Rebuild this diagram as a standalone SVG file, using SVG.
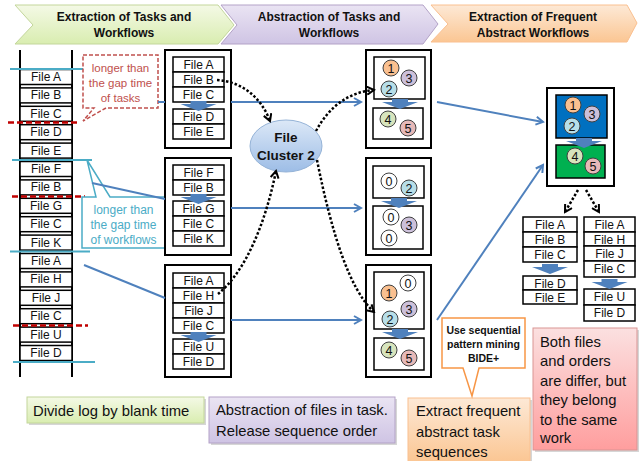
<svg xmlns="http://www.w3.org/2000/svg" width="639" height="461" viewBox="0 0 639 461">
<style>
text{font-family:"Liberation Sans",Arial,sans-serif;fill:#111}
.ft{font-size:12px;text-anchor:middle}
.fb{fill:#fff;stroke:#000;stroke-width:1.5}
.outer{fill:#fff;stroke:#000;stroke-width:2}
.inner{fill:#fff;stroke:#000;stroke-width:1.5}
.hd{font-size:12px;font-weight:bold;text-anchor:middle}
.c{stroke:#404040;stroke-width:1}
.ct{font-size:12.5px;text-anchor:middle}
.bl{fill:none;stroke:#4F81BD;stroke-width:2}
.dot{fill:none;stroke:#000;stroke-width:2.5;stroke-dasharray:2.5 2}
.teal{stroke:#4BACC6;stroke-width:2}
.red{stroke:#C00000;stroke-width:2.5;stroke-dasharray:6 3}
.lab{font-size:14.8px}
</style>
<defs>
<linearGradient id="gG" x1="0" y1="0" x2="0" y2="1"><stop offset="0" stop-color="#F4F9E6"/><stop offset="1" stop-color="#D9EDB0"/></linearGradient>
<linearGradient id="gP" x1="0" y1="0" x2="0" y2="1"><stop offset="0" stop-color="#EAE4F3"/><stop offset="1" stop-color="#CFC4E4"/></linearGradient>
<linearGradient id="gO" x1="0" y1="0" x2="0" y2="1"><stop offset="0" stop-color="#FDE9D6"/><stop offset="1" stop-color="#FBC693"/></linearGradient>
<linearGradient id="gR" x1="0" y1="0" x2="0" y2="1"><stop offset="0" stop-color="#FBE0E0"/><stop offset="1" stop-color="#FF9E9E"/></linearGradient>
<linearGradient id="gE" x1="0" y1="0" x2="0" y2="1"><stop offset="0" stop-color="#DCE8F7"/><stop offset="1" stop-color="#9DBDE6"/></linearGradient>
<marker id="ab" markerWidth="10" markerHeight="10" refX="8" refY="5" orient="auto" markerUnits="userSpaceOnUse"><path d="M1,1 L8,5 L1,9" fill="none" stroke="#4F81BD" stroke-width="2"/></marker>
<marker id="ak" markerWidth="10" markerHeight="10" refX="8" refY="5" orient="auto" markerUnits="userSpaceOnUse"><path d="M1,1 L8,5 L1,9" fill="none" stroke="#000" stroke-width="2"/></marker>
<path id="darr" d="M-8,0 H8 V3 H18 L0,10 L-18,3 H-8 Z" fill="#4F81BD"/>
</defs>

<g id="headers">
<path d="M15,5 H218 L234,25 L218,44 H15 L33,25 Z" fill="url(#gG)" stroke="#C3D69B" stroke-width="1"/>
<text class="hd" x="124" y="21">Extraction of Tasks and</text>
<text class="hd" x="124" y="37">Workflows</text>
<path d="M221,5 H423 L438,24 L423,44 H221 L237,25 Z" fill="url(#gP)" stroke="#B3A2C7" stroke-width="1"/>
<text class="hd" x="329" y="21">Abstraction of Tasks and</text>
<text class="hd" x="329" y="37">Workflows</text>
<path d="M431,5 H627 L637,23 L627,42 H431 L448,24 Z" fill="url(#gO)" stroke="#FAC090" stroke-width="1"/>
<text class="hd" x="533" y="21">Extraction of Frequent</text>
<text class="hd" x="533" y="37">Abstract Workflows</text>
</g>

<g id="log">
<line x1="20" y1="50" x2="20" y2="377" stroke="#000" stroke-width="2"/>
<line x1="72" y1="50" x2="72" y2="377" stroke="#000" stroke-width="2"/>
<g>
<rect class="fb" x="20" y="69.5" width="52" height="15"/><text class="ft" x="46" y="81">File A</text>
<rect class="fb" x="20" y="87.9" width="52" height="15"/><text class="ft" x="46" y="99.4">File B</text>
<rect class="fb" x="20" y="106.3" width="52" height="15"/><text class="ft" x="46" y="117.8">File C</text>
<rect class="fb" x="20" y="124.7" width="52" height="15"/><text class="ft" x="46" y="136.2">File D</text>
<rect class="fb" x="20" y="143.1" width="52" height="15"/><text class="ft" x="46" y="154.6">File E</text>
<rect class="fb" x="20" y="161.5" width="52" height="15"/><text class="ft" x="46" y="173">File F</text>
<rect class="fb" x="20" y="179.9" width="52" height="15"/><text class="ft" x="46" y="191.4">File B</text>
<rect class="fb" x="20" y="198.3" width="52" height="15"/><text class="ft" x="46" y="209.8">File G</text>
<rect class="fb" x="20" y="216.7" width="52" height="15"/><text class="ft" x="46" y="228.2">File C</text>
<rect class="fb" x="20" y="235.1" width="52" height="15"/><text class="ft" x="46" y="246.6">File K</text>
<rect class="fb" x="20" y="253.5" width="52" height="15"/><text class="ft" x="46" y="265">File A</text>
<rect class="fb" x="20" y="271.9" width="52" height="15"/><text class="ft" x="46" y="283.4">File H</text>
<rect class="fb" x="20" y="290.3" width="52" height="15"/><text class="ft" x="46" y="301.8">File J</text>
<rect class="fb" x="20" y="308.7" width="52" height="15"/><text class="ft" x="46" y="320.2">File C</text>
<rect class="fb" x="20" y="327.1" width="52" height="15"/><text class="ft" x="46" y="338.6">File U</text>
<rect class="fb" x="20" y="345.5" width="52" height="15"/><text class="ft" x="46" y="357">File D</text>
</g>
<line class="teal" x1="10" y1="69" x2="83" y2="69"/>
<line class="teal" x1="12" y1="160" x2="92" y2="160"/>
<line class="teal" x1="10" y1="251.5" x2="90" y2="251.5"/>
<line class="teal" x1="13" y1="362" x2="95" y2="362"/>
<line class="red" x1="8" y1="122.5" x2="80" y2="122.5"/>
<line class="red" x1="12" y1="196.5" x2="85" y2="196.5"/>
<line class="red" x1="13" y1="325.5" x2="88" y2="325.5"/>
</g>

<g id="callout-tasks">
<path d="M83,55 H158 V108 H106 L83,121 L94,108 H83 Z" fill="#fff" stroke="#C0504D" stroke-width="1.5" stroke-dasharray="4 2"/>
<text x="120.5" y="72" font-size="11.5" text-anchor="middle" style="fill:#C0504D">longer than</text>
<text x="120.5" y="87" font-size="11.5" text-anchor="middle" style="fill:#C0504D">the gap time</text>
<text x="120.5" y="102" font-size="11.5" text-anchor="middle" style="fill:#C0504D">of tasks</text>
</g>

<g id="callout-workflows">
<path d="M82,197 H96 L87,160 L110,197 H165 V248 H82 Z" fill="#fff" stroke="#4BACC6" stroke-width="1.5"/>
<text x="123.5" y="214" font-size="12" text-anchor="middle" style="fill:#4BACC6">longer than</text>
<text x="123.5" y="229" font-size="12" text-anchor="middle" style="fill:#4BACC6">the gap time</text>
<text x="123.5" y="244" font-size="12" text-anchor="middle" style="fill:#4BACC6">of workflows</text>
</g>

<g id="task1">
<rect class="outer" x="165" y="50" width="66" height="98"/>
<rect class="fb" x="173" y="57" width="51" height="15"/><text class="ft" x="198.5" y="68.5">File A</text>
<rect class="fb" x="173" y="72" width="51" height="15"/><text class="ft" x="198.5" y="83.5">File B</text>
<rect class="fb" x="173" y="87" width="51" height="15"/><text class="ft" x="198.5" y="98.5">File C</text>
<rect class="fb" x="173" y="109" width="51" height="15"/><text class="ft" x="198.5" y="120.5">File D</text>
<rect class="fb" x="173" y="124" width="51" height="15"/><text class="ft" x="198.5" y="135.5">File E</text>
<use href="#darr" x="198.5" y="101"/>
</g>

<g id="task2">
<rect class="outer" x="165" y="158" width="66" height="97"/>
<rect class="fb" x="173" y="165" width="51" height="15"/><text class="ft" x="198.5" y="176.5">File F</text>
<rect class="fb" x="173" y="180" width="51" height="15"/><text class="ft" x="198.5" y="191.5">File B</text>
<rect class="fb" x="173" y="201" width="51" height="15"/><text class="ft" x="198.5" y="212.5">File G</text>
<rect class="fb" x="173" y="216" width="51" height="15"/><text class="ft" x="198.5" y="227.5">File C</text>
<rect class="fb" x="173" y="231" width="51" height="15"/><text class="ft" x="198.5" y="242.5">File K</text>
<use href="#darr" x="198.5" y="194"/>
</g>

<g id="task3">
<rect class="outer" x="165" y="265" width="66" height="112"/>
<rect class="fb" x="173" y="273" width="51" height="15"/><text class="ft" x="198.5" y="284.5">File A</text>
<rect class="fb" x="173" y="288" width="51" height="15"/><text class="ft" x="198.5" y="299.5">File H</text>
<rect class="fb" x="173" y="303" width="51" height="15"/><text class="ft" x="198.5" y="314.5">File J</text>
<rect class="fb" x="173" y="318" width="51" height="15"/><text class="ft" x="198.5" y="329.5">File C</text>
<rect class="fb" x="173" y="339" width="51" height="15"/><text class="ft" x="198.5" y="350.5">File U</text>
<rect class="fb" x="173" y="354" width="51" height="15"/><text class="ft" x="198.5" y="365.5">File D</text>
<use href="#darr" x="198.5" y="332"/>
</g>

<g id="cluster">
<ellipse cx="286" cy="146" rx="36" ry="26" fill="url(#gE)" stroke="#95B3D7" stroke-width="1"/>
<text x="286" y="142" font-size="13.5" font-weight="bold" text-anchor="middle">File</text>
<text x="286" y="160" font-size="13.5" font-weight="bold" text-anchor="middle">Cluster 2</text>
</g>

<g id="abs1">
<rect class="outer" x="366" y="50" width="65" height="98"/>
<rect class="inner" x="374" y="57" width="51" height="42"/>
<rect class="inner" x="373" y="108" width="50" height="31"/>
<use href="#darr" x="400" y="99"/>
<circle class="c" cx="391" cy="68" r="8" fill="#FAC090"/><text class="ct" x="391" y="72.5">1</text>
<circle class="c" cx="409" cy="78" r="8" fill="#CCC0DA"/><text class="ct" x="409" y="82.5">3</text>
<circle class="c" cx="389" cy="89" r="8" fill="#B7DEE8"/><text class="ct" x="389" y="93.5">2</text>
<circle class="c" cx="388" cy="119" r="8" fill="#D7E4BD"/><text class="ct" x="388" y="123.5">4</text>
<circle class="c" cx="408" cy="128" r="8" fill="#E6B9B8"/><text class="ct" x="408" y="132.5">5</text>
</g>

<g id="abs2">
<rect class="outer" x="366" y="158" width="65" height="97"/>
<rect class="inner" x="373" y="166" width="51" height="32"/>
<rect class="inner" x="373" y="206" width="50" height="43"/>
<use href="#darr" x="399" y="198"/>
<circle class="c" cx="389" cy="181" r="8" fill="#fff"/><text class="ct" x="389" y="185.5">0</text>
<circle class="c" cx="409" cy="188" r="8" fill="#B7DEE8"/><text class="ct" x="409" y="192.5">2</text>
<circle class="c" cx="391" cy="217" r="8" fill="#fff"/><text class="ct" x="391" y="221.5">0</text>
<circle class="c" cx="409" cy="225" r="8" fill="#CCC0DA"/><text class="ct" x="409" y="229.5">3</text>
<circle class="c" cx="389" cy="238" r="8" fill="#fff"/><text class="ct" x="389" y="242.5">0</text>
</g>

<g id="abs3">
<rect class="outer" x="366" y="265" width="65" height="112"/>
<rect class="inner" x="374" y="272" width="50" height="57"/>
<rect class="inner" x="374" y="338" width="50" height="32"/>
<use href="#darr" x="400" y="329"/>
<circle class="c" cx="408" cy="283" r="8" fill="#fff"/><text class="ct" x="408" y="287.5">0</text>
<circle class="c" cx="389" cy="293" r="8" fill="#FAC090"/><text class="ct" x="389" y="297.5">1</text>
<circle class="c" cx="409" cy="309" r="8" fill="#CCC0DA"/><text class="ct" x="409" y="313.5">3</text>
<circle class="c" cx="390" cy="319" r="8" fill="#B7DEE8"/><text class="ct" x="390" y="323.5">2</text>
<circle class="c" cx="389" cy="350" r="8" fill="#D7E4BD"/><text class="ct" x="389" y="354.5">4</text>
<circle class="c" cx="409" cy="358" r="8" fill="#E6B9B8"/><text class="ct" x="409" y="362.5">5</text>
</g>

<g id="frequent">
<rect class="outer" x="547" y="88" width="67" height="98"/>
<rect x="556" y="95" width="51" height="43" fill="#0070C0" stroke="#000" stroke-width="1.5"/>
<rect x="556" y="145" width="49" height="33" fill="#00B050" stroke="#000" stroke-width="1.5"/>
<use href="#darr" x="584" y="138"/>
<circle class="c" cx="573" cy="105" r="8" fill="#FAC090"/><text class="ct" x="573" y="109.5">1</text>
<circle class="c" cx="592" cy="114" r="8" fill="#CCC0DA"/><text class="ct" x="592" y="118.5">3</text>
<circle class="c" cx="572" cy="126" r="8" fill="#B7DEE8"/><text class="ct" x="572" y="130.5">2</text>
<circle class="c" cx="575" cy="156" r="8" fill="#D7E4BD"/><text class="ct" x="575" y="160.5">4</text>
<circle class="c" cx="593" cy="166" r="8" fill="#E6B9B8"/><text class="ct" x="593" y="170.5">5</text>
</g>

<g id="instance1">
<rect class="fb" x="523" y="217" width="54" height="15"/><text class="ft" x="550" y="228.5">File A</text>
<rect class="fb" x="523" y="232" width="54" height="15"/><text class="ft" x="550" y="243.5">File B</text>
<rect class="fb" x="523" y="247" width="54" height="15"/><text class="ft" x="550" y="258.5">File C</text>
<rect class="fb" x="523" y="276" width="54" height="14"/><text class="ft" x="550" y="287.5">File D</text>
<rect class="fb" x="523" y="290" width="54" height="14"/><text class="ft" x="550" y="301.5">File E</text>
<use href="#darr" x="550" y="264"/>
</g>

<g id="instance2">
<rect class="fb" x="584" y="217" width="51" height="15"/><text class="ft" x="609.5" y="228.5">File A</text>
<rect class="fb" x="584" y="232" width="51" height="14"/><text class="ft" x="609.5" y="243.5">File H</text>
<rect class="fb" x="584" y="246" width="51" height="15"/><text class="ft" x="609.5" y="257.5">File J</text>
<rect class="fb" x="584" y="261" width="51" height="16"/><text class="ft" x="609.5" y="273">File C</text>
<rect class="fb" x="584" y="289" width="51" height="16"/><text class="ft" x="609.5" y="301">File U</text>
<rect class="fb" x="584" y="305" width="51" height="16"/><text class="ft" x="609.5" y="317">File D</text>
<use href="#darr" x="609.5" y="279"/>
</g>

<g id="note-divide">
<rect x="29" y="399" width="177" height="26" fill="#999" opacity="0.4"/>
<rect x="27" y="397" width="177" height="26" fill="url(#gG)" stroke="#C3D69B" stroke-width="1"/>
<text class="lab" x="33" y="415.5">Divide log by blank time</text>
</g>

<g id="note-abstraction">
<rect x="211" y="399" width="186" height="46" fill="#999" opacity="0.4"/>
<rect x="209" y="397" width="186" height="46" fill="url(#gP)" stroke="#B3A2C7" stroke-width="1"/>
<text class="lab" x="216" y="415">Abstraction of files in task.</text>
<text class="lab" x="216" y="436">Release sequence order</text>
</g>

<g id="note-extract">
<rect x="410" y="400" width="122" height="63" fill="#999" opacity="0.4"/>
<rect x="408" y="398" width="122" height="64" fill="url(#gO)" stroke="#FAC090" stroke-width="1"/>
<text class="lab" x="416" y="416">Extract frequent</text>
<text class="lab" x="416" y="437">abstract task</text>
<text class="lab" x="416" y="457">sequences</text>
</g>

<g id="callout-bide">
<path d="M442,318 H525 V368 H479 L472,396 L463,368 H442 Z" fill="#fff" stroke="#F79646" stroke-width="1.5"/>
<text x="483.5" y="334" font-size="10.5" font-weight="bold" text-anchor="middle">Use sequential</text>
<text x="483.5" y="348" font-size="10.5" font-weight="bold" text-anchor="middle">pattern mining</text>
<text x="483.5" y="362" font-size="10.5" font-weight="bold" text-anchor="middle">BIDE+</text>
</g>

<g id="note-both">
<rect x="535" y="330" width="104" height="122" fill="#999" opacity="0.4"/>
<rect x="533" y="328" width="104" height="122" fill="url(#gR)" stroke="#D99594" stroke-width="1"/>
<text class="lab" x="540" y="347">Both files</text>
<text class="lab" x="540" y="366">and orders</text>
<text class="lab" x="540" y="386">are differ, but</text>
<text class="lab" x="540" y="405">they belong</text>
<text class="lab" x="540" y="425">to the same</text>
<text class="lab" x="540" y="443">work</text>
</g>

<g id="connectors">
<path class="bl" d="M158,102 H165"/>
<path class="bl" d="M231,102 H361" marker-end="url(#ab)"/>
<path class="bl" d="M92,183 L165,199"/>
<path class="bl" d="M231,208 H361" marker-end="url(#ab)"/>
<path class="bl" d="M84,265 L165,298"/>
<path class="bl" d="M231,320 H361" marker-end="url(#ab)"/>
<path class="bl" d="M437,102 L543,122" marker-end="url(#ab)"/>
<path class="bl" d="M437,320 L543,165" marker-end="url(#ab)"/>
<path class="dot" d="M217,80 C245,82 262,100 270,121" marker-end="url(#ak)"/>
<path class="dot" d="M218,294 C245,272 265,225 276,171" marker-end="url(#ak)"/>
<path class="dot" d="M316,131 C330,105 350,92 374,90" marker-end="url(#ak)"/>
<path class="dot" d="M317,160 C332,235 350,290 374,312" marker-end="url(#ak)"/>
<path class="dot" d="M578,190 L565,212" marker-end="url(#ak)"/>
<path class="dot" d="M586,190 L599,212" marker-end="url(#ak)"/>
</g>
</svg>
